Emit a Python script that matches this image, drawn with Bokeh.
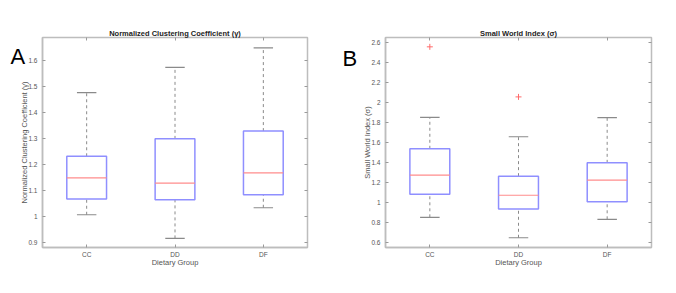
from bokeh.plotting import figure
from bokeh.layouts import row
from bokeh.models import Range1d, FixedTicker, LinearAxis, Label
from bokeh.embed import file_html
from bokeh.resources import INLINE

groups = ["CC", "DD", "DF"]
positions = [1, 2, 3]

# Panel A: Normalized Clustering Coefficient (gamma)
a_lower = [1.008, 0.917, 1.035]
a_q1 = [1.069, 1.066, 1.085]
a_median = [1.150, 1.130, 1.169]
a_q3 = [1.233, 1.300, 1.330]
a_upper = [1.478, 1.575, 1.650]
a_outlier_group = []
a_outlier_value = []
a_ticks = [0.9, 1.0, 1.1, 1.2, 1.3, 1.4, 1.5, 1.6]
a_tick_labels = ["0.9", "1", "1.1", "1.2", "1.3", "1.4", "1.5", "1.6"]

# Panel B: Small World Index (sigma)
b_lower = [0.854, 0.650, 0.834]
b_q1 = [1.084, 0.937, 1.010]
b_median = [1.274, 1.074, 1.224]
b_q3 = [1.537, 1.264, 1.397]
b_upper = [1.850, 1.657, 1.847]
b_outlier_group = ["CC", "DD"]
b_outlier_value = [2.553, 2.054]
b_ticks = [0.6, 0.8, 1.0, 1.2, 1.4, 1.6, 1.8, 2.0, 2.2, 2.4, 2.6]
b_tick_labels = ["0.6", "0.8", "1", "1.2", "1.4", "1.6", "1.8", "2", "2.2", "2.4", "2.6"]

FONT = "Liberation Sans"
BOX_W = 0.45
CAP_W = 0.22


def make_panel(title, ylabel, letter, lower, q1, med, q3, upper, out_g, out_v,
               ticks, tick_labels, yr, borders, width, letter_off, letter_side):
    bl, br, bt, bb = borders
    p = figure(width=width, height=293, output_backend="svg", toolbar_location=None,
               x_range=Range1d(0.5, 3.5), y_range=Range1d(*yr),
               min_border_left=bl, min_border_right=br, min_border_top=bt,
               min_border_bottom=bb, title=title)
    p.title.text_font = FONT
    p.title.text_font_size = "7.5px"
    p.title.text_font_style = "bold"
    p.title.text_color = "#222222"
    p.title.align = "center"
    p.title.standoff = 0
    p.xgrid.visible = False
    p.ygrid.visible = False
    p.outline_line_color = "#bdbdbd"
    p.outline_line_width = 1.5
    p.background_fill_color = "white"
    p.border_fill_color = "white"

    xs = positions
    left = [x - BOX_W / 2 for x in xs]
    right = [x + BOX_W / 2 for x in xs]
    cl = [x - CAP_W / 2 for x in xs]
    cr = [x + CAP_W / 2 for x in xs]

    # whiskers
    p.segment(x0=xs, y0=q3, x1=xs, y1=upper, line_color="#8a8a8a", line_dash="3 3", line_width=1)
    p.segment(x0=xs, y0=lower, x1=xs, y1=q1, line_color="#8a8a8a", line_dash="3 3", line_width=1)
    # caps
    p.segment(x0=cl, y0=upper, x1=cr, y1=upper, line_color="#8a8a8a", line_width=1.2)
    p.segment(x0=cl, y0=lower, x1=cr, y1=lower, line_color="#8a8a8a", line_width=1.2)
    # boxes
    p.quad(left=left, right=right, bottom=q1, top=q3, fill_color=None,
           line_color="#8f8fff", line_width=1.5)
    # medians
    p.segment(x0=left, y0=med, x1=right, y1=med, line_color="#ff8c8c", line_width=1.2)
    # outliers
    if out_g:
        ox = [positions[groups.index(g)] for g in out_g]
        p.scatter(x=ox, y=out_v, marker="cross", size=6, line_color="#ff6b6b", line_width=1)

    # axes
    for ax in (p.xaxis[0], p.yaxis[0]):
        ax.major_tick_in = 3
        ax.major_tick_out = 0
        ax.minor_tick_line_color = None
        ax.axis_line_color = "#bdbdbd"
        ax.axis_line_width = 1.5
        ax.major_tick_line_color = "#9a9a9a"
        ax.major_label_text_font = FONT
        ax.major_label_text_font_size = "6.5px"
        ax.major_label_text_color = "#555555"
        ax.axis_label_text_font = FONT
        ax.axis_label_text_font_size = "7.5px"
        ax.axis_label_text_font_style = "normal"
        ax.axis_label_text_color = "#555555"
    p.xaxis[0].ticker = FixedTicker(ticks=positions)
    p.xaxis[0].major_label_overrides = {pp: g for pp, g in zip(positions, groups)}
    p.xaxis[0].major_label_standoff = 3
    p.xaxis[0].axis_label = "Dietary Group"
    p.xaxis[0].axis_label_standoff = -3
    p.yaxis[0].ticker = FixedTicker(ticks=ticks)
    p.yaxis[0].major_label_overrides = {t: l for t, l in zip(ticks, tick_labels)}
    p.yaxis[0].major_label_standoff = 5
    p.yaxis[0].axis_label = ylabel
    p.yaxis[0].axis_label_standoff = -4

    # mirror ticks on top and right
    top = LinearAxis(ticker=FixedTicker(ticks=positions),
                     major_label_overrides={pp: "" for pp in positions},
                     major_label_standoff=0, axis_line_color=None, major_tick_in=3,
                     major_tick_out=0, major_tick_line_color="#9a9a9a",
                     minor_tick_line_color=None)
    rgt = LinearAxis(ticker=FixedTicker(ticks=ticks),
                     major_label_overrides={t: "" for t in ticks},
                     major_label_standoff=0, axis_line_color=None, major_tick_in=3,
                     major_tick_out=0, major_tick_line_color="#9a9a9a",
                     minor_tick_line_color=None)
    p.add_layout(top, "above")
    p.add_layout(rgt, "right")

    lab = Label(x=0.5, y=yr[1], x_offset=letter_off[0], y_offset=letter_off[1],
                text=letter, text_font=FONT, text_font_size="22px", text_color="black",
                text_baseline="bottom", text_align="left")
    p.add_layout(lab, letter_side)
    return p


pA = make_panel("Normalized Clustering Coefficient (\u03b3)",
                "Normalized Clustering Coefficient (\u03b3)", "A",
                a_lower, a_q1, a_median, a_q3, a_upper, a_outlier_group, a_outlier_value,
                a_ticks, a_tick_labels, (0.882, 1.69), (42, 31, 37, 46), 338, (-32, -31), "right")
pB = make_panel("Small World Index (\u03c3)", "Small World Index (\u03c3)", "B",
                b_lower, b_q1, b_median, b_q3, b_upper, b_outlier_group, b_outlier_value,
                b_ticks, b_tick_labels, (0.553, 2.646), (47, 25, 37, 46), 338, (-43, -33), "left")

layout = row(pA, pB)
open("out.html", "w").write(file_html(layout, INLINE))
